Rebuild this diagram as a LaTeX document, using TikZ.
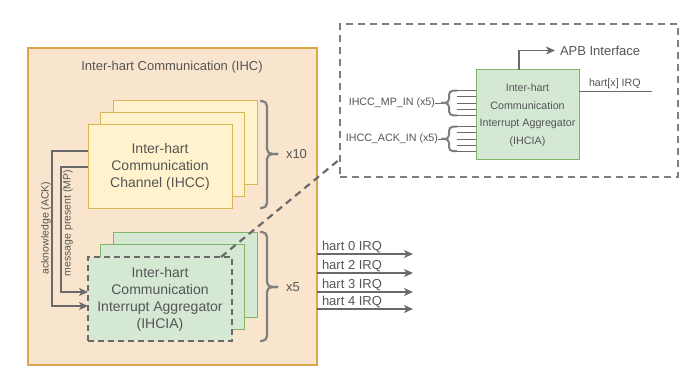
\documentclass[tikz,border=0pt]{standalone}
\usepackage{fontspec}
\setmainfont{Liberation Sans}
\usetikzlibrary{arrows.meta,calc}
\definecolor{txt}{HTML}{555555}
\definecolor{ln}{HTML}{6A6A6A}
\definecolor{brc}{HTML}{7F7F7F}
\definecolor{ihcfill}{HTML}{F9E5CD}
\definecolor{ihcdraw}{HTML}{DBA64A}
\definecolor{yfill}{HTML}{FFF2CC}
\definecolor{ydraw}{HTML}{D6B656}
\definecolor{gfill}{HTML}{D5E8D4}
\definecolor{gdraw}{HTML}{82B366}
\begin{document}
\begin{tikzpicture}[x=1pt,y=-1pt,
  every node/.style={text=txt, inner sep=0pt, outer sep=0pt},
  blk/.style={draw, line width=1pt, anchor=north west, minimum width=144pt, minimum height=84pt, align=center},
  chan/.style={blk, fill=yfill, draw=ydraw},
  aggr/.style={blk, fill=gfill, draw=gdraw},
  big/.style={font=\fontsize{14}{16.8}\selectfont},
  lbl/.style={font=\fontsize{13}{15}\selectfont},
  sml/.style={font=\fontsize{10.7}{17.5}\selectfont},
  arr/.style={draw=ln, line width=1.3pt, -{Stealth[length=9pt,width=8pt,inset=2.5pt]}},
  wire/.style={draw=ln, line width=1.2pt},
  brace/.style={draw=brc, line width=2.2pt, rounded corners=5pt},
  thinwire/.style={draw=ln, line width=0.9pt},
  zoomdash/.style={draw=brc, line width=2pt, dash pattern=on 7pt off 5pt},
  linkdash/.style={draw=ln, line width=2.2pt, dash pattern=on 7pt off 5pt}]
\useasboundingbox (0,0) rectangle (691,382);

% IHC container
\node[draw=ihcdraw, fill=ihcfill, line width=1.2pt, anchor=north west,
  minimum width=289pt, minimum height=317pt] (ihc) at (28,48) {};
\node[lbl] (ihctitle) at (172,67) {Inter-hart Communication (IHC)};

% IHCC stack
\node[chan] (cc3) at (113,101) {};
\node[chan] (cc2) at (100.5,113) {};
\node[chan, big] (cc1) at (88,125) {Inter-hart\\Communication\\Channel (IHCC)};

% IHCIA stack
\node[aggr] (ia3) at (113,233) {};
\node[aggr] (ia2) at (100.5,245) {};
\node[blk, fill=gfill, draw=ln, line width=2pt, dash pattern=on 6pt off 4pt,
  font=\fontsize{14}{17}\selectfont] (ia1) at (88,257)
  {Inter-hart\\Communication\\Interrupt Aggregator\\(IHCIA)};

% multiplicity braces
\draw[brace] (260,101) -- (267,101) -- (267,154) -- (278,154);
\draw[brace] (260,208) -- (267,208) -- (267,154) -- (278,154);
\node[lbl, anchor=west] (n10) at (286,154) {x10};
\draw[brace] (260,232) -- (267,232) -- (267,287) -- (278,287);
\draw[brace] (260,341) -- (267,341) -- (267,287) -- (278,287);
\node[lbl, anchor=west] (n5) at (286,287) {x5};

% ACK / MP signals from channels to aggregators
\coordinate (ackx) at (52,0);
\coordinate (mpx) at (61,0);
\draw[arr] (cc1.west |- 0,151) -| (ackx |- 0,306) -- (ia1.west |- 0,306);
\draw[arr] (cc1.west |- 0,167) -| (mpx |- 0,292) -- (ia1.west |- 0,292);
\node[rotate=90, font=\fontsize{10.5}{12}\selectfont] (acklbl) at (46,228) {acknowledge (ACK)};
\node[rotate=90, font=\fontsize{10.5}{12}\selectfont] (mplbl) at (68,223) {message present (MP)};

% IRQ outputs
\foreach \i/\y in {0/254, 2/273, 3/292, 4/309} {
  \coordinate (irq\i) at (413,\y);
  \draw[arr] (ihc.east |- irq\i) -- (irq\i);
  \node[lbl, anchor=base west] (irqlbl\i) at (322,\y-3.2) {hart \i\ IRQ};
}

% detail view of one aggregator
\node[zoomdash, anchor=north west, minimum width=338pt, minimum height=153pt] (detail) at (340,24) {};
\draw[linkdash] ($(ia1.north east)+(-11,0)$) -- ($(detail.south west)+(0,-18)$);

\node[aggr, sml, minimum width=103pt, minimum height=90pt] (agg) at (476,70)
  {Inter-hart\\Communication\\Interrupt Aggregator\\(IHCIA)};

% APB interface
\coordinate (apbx) at (519,0);
\node[lbl, anchor=west, inner xsep=5pt] (apb) at (555,50.5) {APB Interface};
\draw[arr] (agg.north -| apbx) |- (apb.west);

% hart IRQ output
\coordinate (hx) at (652,91);
\draw[thinwire] (agg.east |- hx) -- (hx);
\node[sml, anchor=base west] (hxlbl) at (589,87) {hart[x] IRQ};

% MP inputs
\foreach \y in {90.7,96.8,103,109.2,115.4} \draw[thinwire] (457,\y) -- (agg.west |- 0,\y);
\draw[draw=brc, line width=2pt, rounded corners=4pt] (457,90.7) -- (449,90.7) -- (449,103) -- (441,103);
\draw[draw=brc, line width=2pt, rounded corners=4pt] (457,115.4) -- (449,115.4) -- (449,103) -- (441,103);
\coordinate (mptip) at (441,103);
\node[sml, anchor=east] (mpin) at (435,103) {IHCC\_MP\_IN (x5)};
\draw[thinwire] (mpin.east) -- (mptip);

% ACK inputs
\foreach \y in {126.7,132.8,139,145,151.2} \draw[thinwire] (457,\y) -- (agg.west |- 0,\y);
\draw[draw=brc, line width=2pt, rounded corners=4pt] (457,126.7) -- (449,126.7) -- (449,139) -- (441,139);
\draw[draw=brc, line width=2pt, rounded corners=4pt] (457,151.2) -- (449,151.2) -- (449,139) -- (441,139);
\coordinate (acktip) at (441,139);
\node[sml, anchor=east] (ackin) at (438,139) {IHCC\_ACK\_IN (x5)};
\draw[thinwire] (ackin.east) -- (acktip);
\end{tikzpicture}
\end{document}
